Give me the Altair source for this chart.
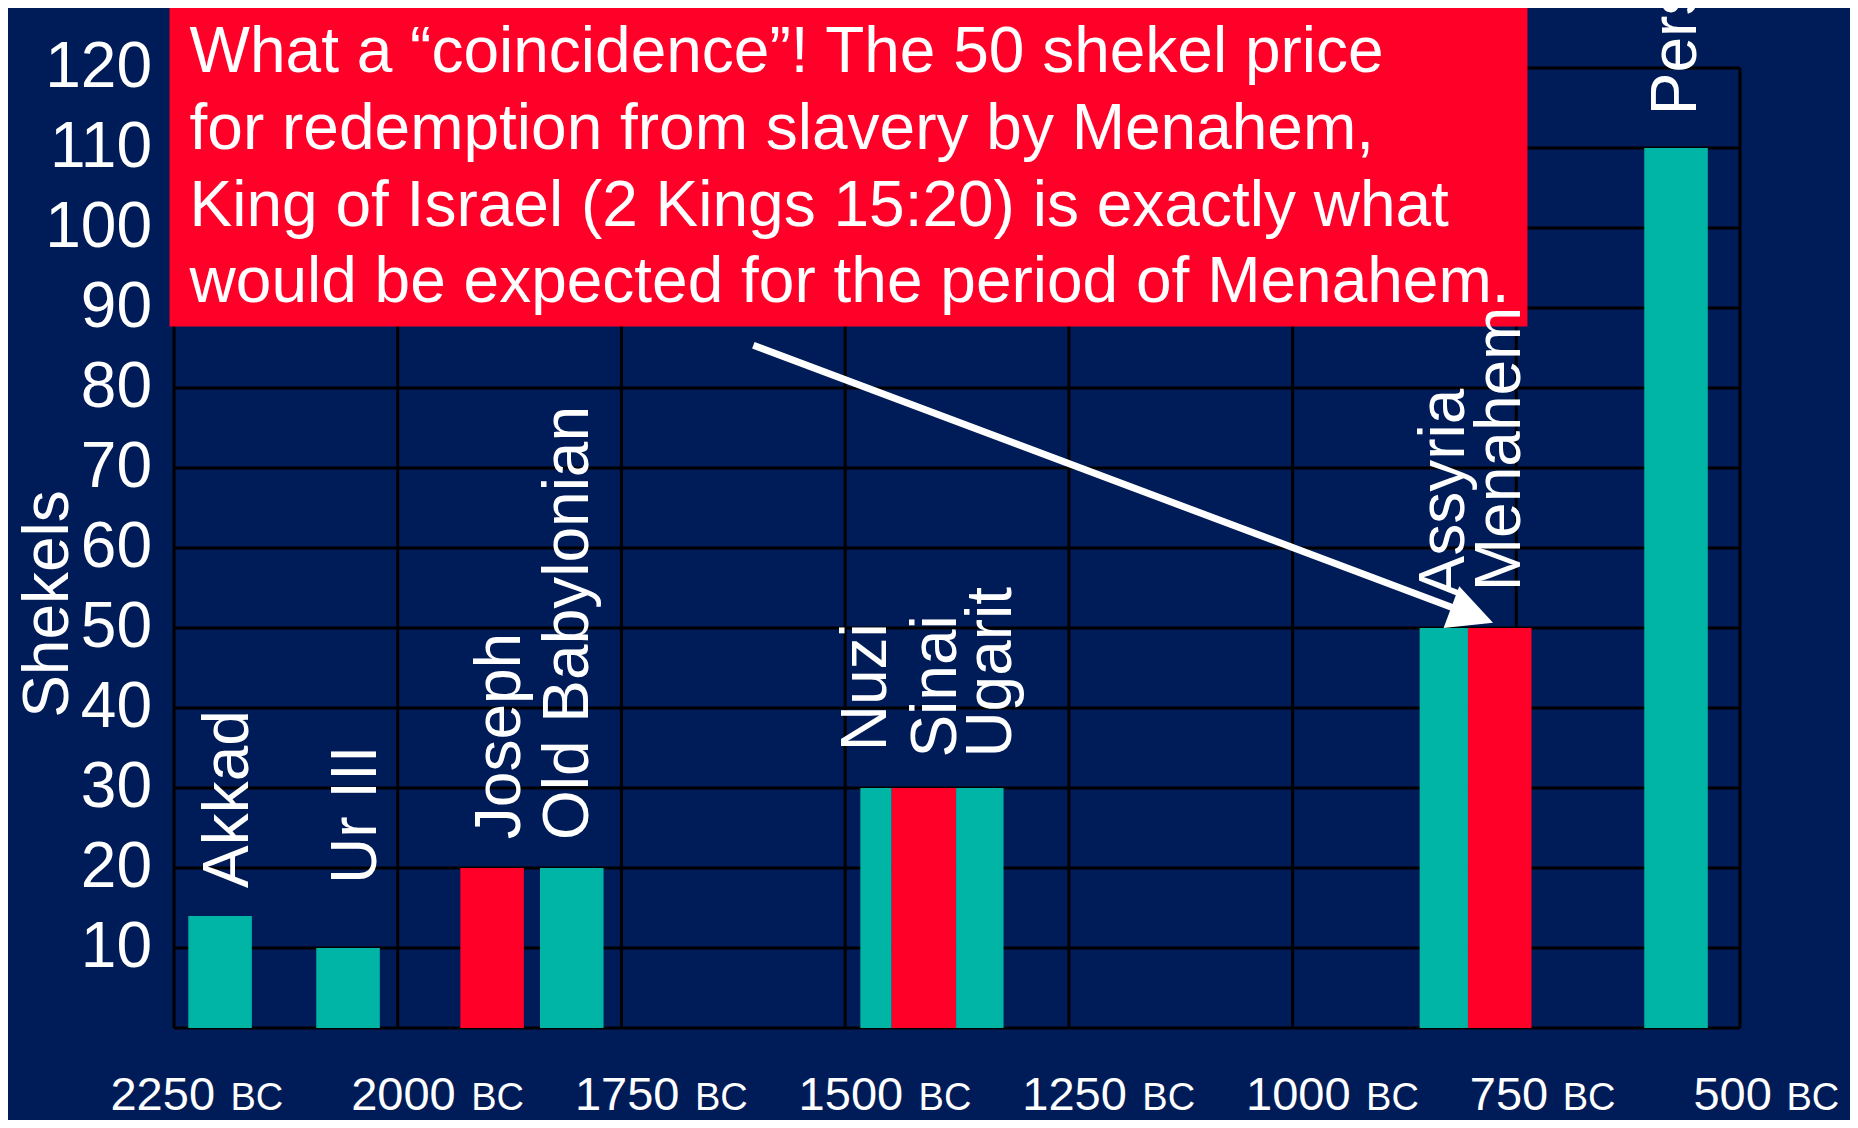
import altair as alt
import pandas as pd

# ---------------- data ----------------
names = ["Akkad", "Ur III", "Joseph", "Old Babylonian", "Nuzi", "Sinai",
         "Ugarit", "Assyria", "Menahem", "Persia"]
start_bc = [2234, 2091, 1930, 1841, 1483, 1448, 1376, 858, 804, 607]
end_bc = [2163, 2020, 1859, 1770, 1448, 1376, 1323, 804, 733, 536]
shekels = [14, 10, 20, 20, 30, 30, 30, 50, 50, 110]
source = ["other", "other", "bible", "other", "other", "bible",
          "other", "other", "bible", "other"]
# where each (vertical) name label sits: its baseline (in years BC) and its start (in shekels)
label_bc = [2163, 2020, 1859, 1783, 1450, 1372, 1310, 804, 741, 545]
label_at = [17.5, 18.0, 23.6, 23.5, 34.6, 33.8, 33.8, 53.7, 54.6, 114.1]

year_ticks = [2250, 2000, 1750, 1500, 1250, 1000, 750, 500]
year_label_bc = [2321, 2052, 1802, 1552, 1302, 1052, 802, 552]   # where each tick label starts
era = "BC"
shekel_ticks = [10, 20, 30, 40, 50, 60, 70, 80, 90, 100, 110, 120]
y_title = "Shekels"
y_title_at = 53

note_lines = [
    "What a \u201ccoincidence\u201d! The 50 shekel price",
    "for redemption from slavery by Menahem,",
    "King of Israel (2 Kings 15:20) is exactly what",
    "would be expected for the period of Menahem.",
]
note_box_bc = [2255, 737.5]
note_box_shekels = [87.7, 128.4]
note_text_bc = 2232.6
note_text_shekels = 119.45
arrow_bc = [1602.6, 776.0]        # start, tip
arrow_shekels = [85.35, 50.66]    # start, tip

# ---------------- styles ----------------
NAVY = "#001C58"
TEAL = "#00B5A6"
RED = "#FF0029"
FONT = "Liberation Sans"
GRID_W = 3
TICK_DY = 81.5

x_lo, x_hi = year_ticks[0], year_ticks[-1]
y_lo, y_hi = 0, shekel_ticks[-1]

# ---------------- tables ----------------
bars_df = pd.DataFrame({
    "name": names, "start": start_bc, "end": end_bc, "value": shekels,
    "source": source, "label_bc": label_bc, "label_at": label_at, "base": 0,
})
ticks_df = pd.DataFrame({
    "year": year_ticks, "label_bc": year_label_bc,
    "num": [str(y) for y in year_ticks],
    "digits": [len(str(y)) for y in year_ticks],
    "era": era, "base": y_lo,
})
hgrid_df = pd.DataFrame({"y": [y_lo] + shekel_ticks, "x1": x_lo, "x2": x_hi})
vgrid_df = pd.DataFrame({"x": year_ticks, "y1": y_lo, "y2": y_hi})
ylab_df = pd.DataFrame({"y": shekel_ticks, "x": x_lo, "t": [str(v) for v in shekel_ticks]})
ytitle_df = pd.DataFrame({"x": [x_lo], "y": [y_title_at], "t": [y_title]})
box_df = pd.DataFrame({"x1": [note_box_bc[0]], "x2": [note_box_bc[1]],
                       "y1": [note_box_shekels[0]], "y2": [note_box_shekels[1]]})
note_df = pd.DataFrame({"x": [note_text_bc], "y": [note_text_shekels]})

shaft_stop = 0.038  # shaft stops a little before the tip, under the head
tip_x, tip_y = arrow_bc[1], arrow_shekels[1]
shaft_df = pd.DataFrame({
    "x": [arrow_bc[0], tip_x + shaft_stop * (arrow_bc[0] - tip_x)],
    "y": [arrow_shekels[0], tip_y + shaft_stop * (arrow_shekels[0] - tip_y)],
})
head_df = pd.DataFrame({"x": [tip_x], "y": [tip_y]})

xscale = alt.Scale(domain=[x_hi, x_lo], reverse=True, nice=False, zero=False)
yscale = alt.Scale(domain=[y_lo, y_hi], nice=False)


def X(field):
    return alt.X(field, type="quantitative", scale=xscale, axis=None)


def Y(field):
    return alt.Y(field, type="quantitative", scale=yscale, axis=None)


hgrid = alt.Chart(hgrid_df).mark_rule(color="black", strokeWidth=GRID_W).encode(
    x=X("x1"), x2="x2", y=Y("y"))
vgrid = alt.Chart(vgrid_df).mark_rule(color="black", strokeWidth=GRID_W).encode(
    x=X("x"), y=Y("y1"), y2="y2")

ylabels = alt.Chart(ylab_df).mark_text(
    align="right", baseline="middle", dx=-22, font=FONT, fontSize=64, color="white",
).encode(x=X("x"), y=Y("y"), text="t:N")

ytitle = alt.Chart(ytitle_df).mark_text(
    angle=270, align="center", baseline="alphabetic", dy=-106, font=FONT,
    fontSize=64, color="white",
).encode(x=X("x"), y=Y("y"), text="t:N")

bars = alt.Chart(bars_df).mark_rect().encode(
    x=X("start"), x2="end",
    y=Y("value"), y2="base",
    color=alt.Color("source:N", scale=alt.Scale(domain=["other", "bible"],
                                                range=[TEAL, RED]), legend=None),
)

box = alt.Chart(box_df).mark_rect(color=RED).encode(
    x=X("x1"), x2="x2", y=Y("y1"), y2="y2")

note = alt.Chart(note_df).mark_text(
    text=note_lines, align="left", baseline="alphabetic", font=FONT,
    fontSize=64, lineHeight=76.7, color="white",
).encode(x=X("x"), y=Y("y"))

shaft = alt.Chart(shaft_df).mark_line(color="white", strokeWidth=7, strokeCap="butt").encode(
    x=X("x"), y=Y("y"))

head = alt.Chart(head_df).mark_point(
    shape="M 0 0 L -1 -0.5 L -1 0.5 Z", filled=True, color="white",
    opacity=1, size=7900, angle=20.6, strokeWidth=0,
).encode(x=X("x"), y=Y("y"))

labels = alt.Chart(bars_df).mark_text(
    angle=270, align="left", baseline="alphabetic", dy=-4, font=FONT,
    fontSize=64, color="white",
).encode(x=X("label_bc"), y=Y("label_at"), text="name:N")

nums = alt.Chart(ticks_df).mark_text(
    align="left", baseline="alphabetic", dy=TICK_DY, font=FONT,
    fontSize=47, color="white",
).encode(x=X("label_bc"), y=Y("base"), text="num:N")


def era_layer(ndig, dx):
    return alt.Chart(ticks_df).transform_filter(
        alt.datum.digits == ndig
    ).mark_text(
        align="left", baseline="alphabetic", dx=dx, dy=TICK_DY, font=FONT,
        fontSize=38, color="white",
    ).encode(x=X("label_bc"), y=Y("base"), text="era:N")


chart = alt.layer(
    hgrid, vgrid, ylabels, ytitle, bars, box, note, shaft, head, labels, nums,
    era_layer(4, 120), era_layer(3, 93),
).properties(
    width=1566, height=960, background=NAVY,
    padding={"left": 166, "top": 60, "right": 110, "bottom": 92},
    autosize=alt.AutoSizeParams(type="none"),
).configure_view(stroke=None)

chart.save("out.html", embed_options={"renderer": "svg", "actions": False})
